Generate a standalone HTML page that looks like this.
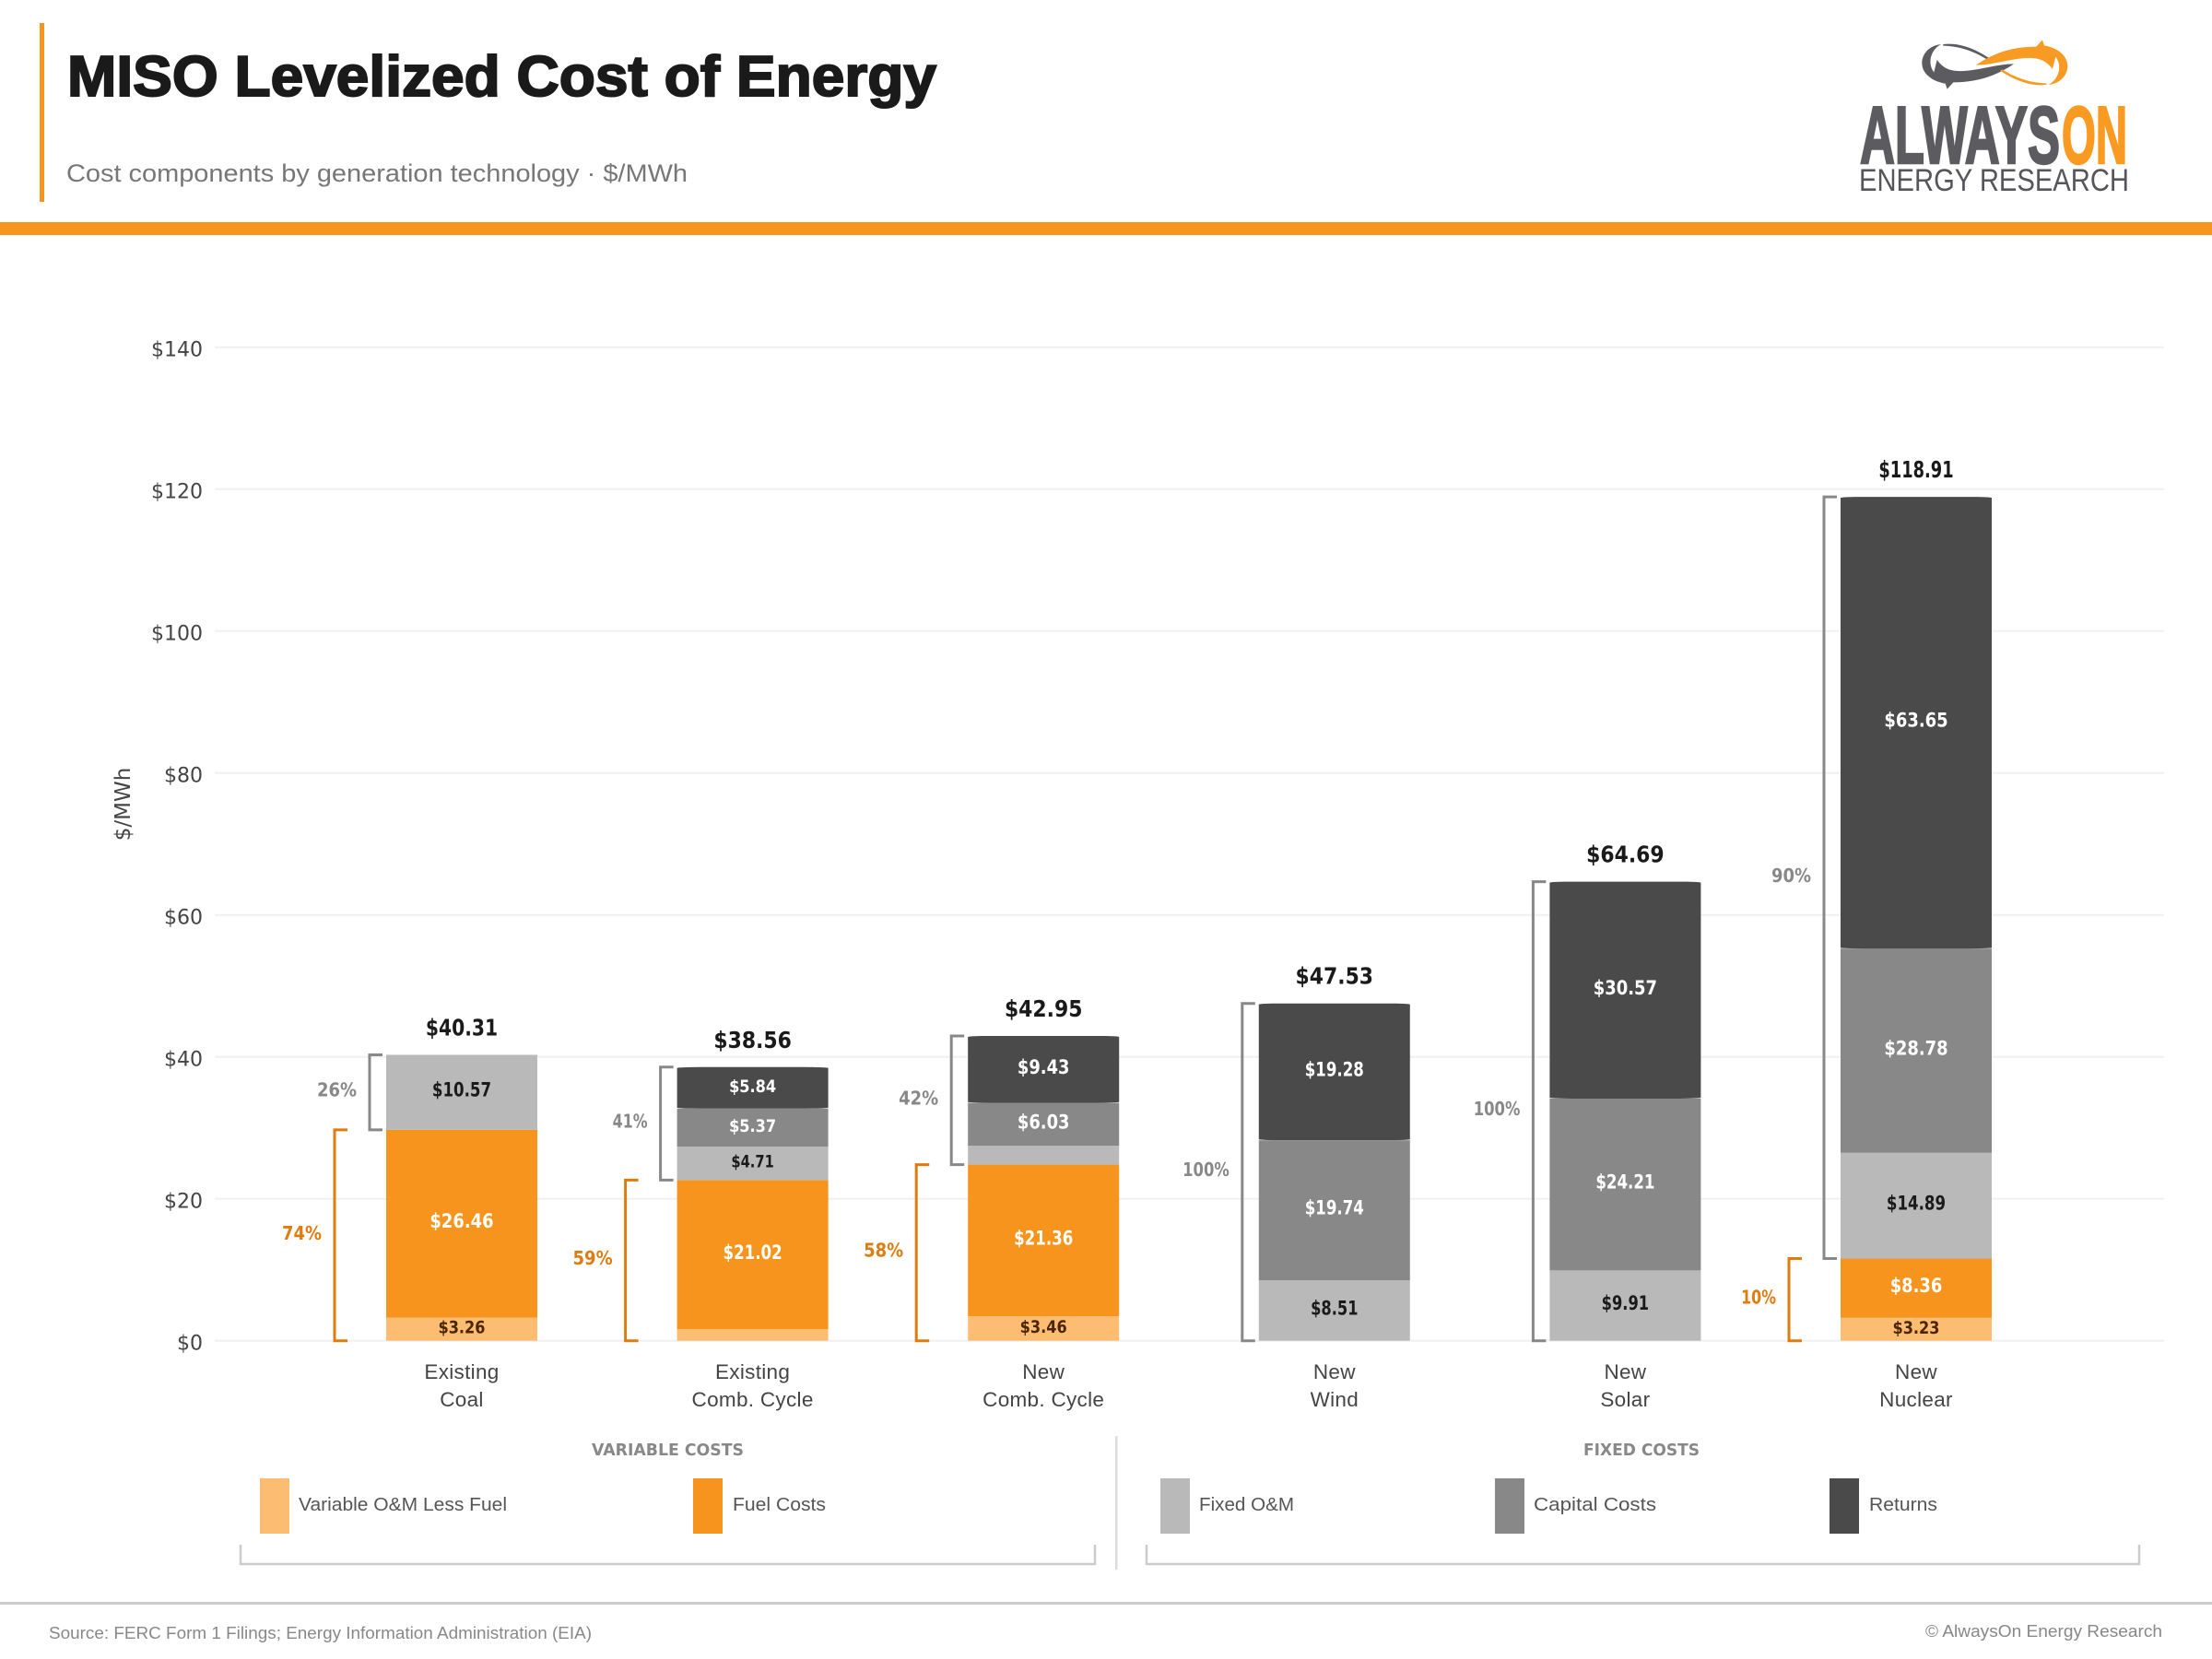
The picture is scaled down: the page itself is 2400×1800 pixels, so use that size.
<!DOCTYPE html>
<html lang="en">
<head>
<meta charset="utf-8">
<title>MISO Levelized Cost of Energy</title>
<style>
  html, body { margin: 0; padding: 0; background: #ffffff; }
  svg { display: block; }
  .sans { font-family: "Liberation Sans", sans-serif; }
  .deja { font-family: "DejaVu Sans", sans-serif; }
</style>
</head>
<body>
<svg id="chart" xmlns="http://www.w3.org/2000/svg" width="2400" height="1800" viewBox="0 0 2400 1800">
  <rect x="0" y="0" width="2400" height="1800" fill="#ffffff"/>

  <g>
    <rect x="43" y="25" width="5" height="194" fill="#f7941d"/>
    <text class="sans" x="73" y="104" font-size="62" font-weight="700" fill="#1a1a1a" stroke="#1a1a1a" stroke-width="2" textLength="943" lengthAdjust="spacingAndGlyphs">MISO Levelized Cost of Energy</text>
    <text class="sans" x="72" y="197" font-size="27" fill="#777777" textLength="674" lengthAdjust="spacingAndGlyphs">Cost components by generation technology  ·  $/MWh</text>
    <rect x="0" y="241" width="2400" height="14" fill="#f7941d"/>
  </g>

  <g>
    <g transform="translate(1960 20) scale(0.3333)">
      <path d="M675 148 C610 148 540 178 480 170 C455 166 440 155 425 135 L415 175 C395 150 400 105 438 84 C400 88 376 115 376 145 C376 180 410 205 452 212 L458 230 L478 208 C560 208 620 185 675 148 Z" fill="#5c5c60"/>
      <path d="M445 84 C500 78 550 100 596 130 L588 134 C545 106 495 90 445 89 Z" fill="#5c5c60"/>
      <g transform="rotate(180 613 150)">
        <path d="M675 148 C610 148 540 178 480 170 C455 166 440 155 425 135 L415 175 C395 150 400 105 438 84 C400 88 376 115 376 145 C376 180 410 205 452 212 L458 230 L478 208 C560 208 620 185 675 148 Z" fill="#f99a22"/>
        <path d="M445 84 C500 78 550 100 596 130 L588 134 C545 106 495 90 445 89 Z" fill="#f99a22"/>
      </g>
    </g>
    <text class="sans" x="2018" y="177" font-size="88" font-weight="700" fill="#5c5c60" stroke="#5c5c60" stroke-width="2.5" textLength="217" lengthAdjust="spacingAndGlyphs">ALWAYS</text>
    <text class="sans" x="2237" y="177" font-size="88" font-weight="700" fill="#f99a22" stroke="#f99a22" stroke-width="2.5" textLength="71" lengthAdjust="spacingAndGlyphs">ON</text>
    <text class="sans" x="2017" y="207" font-size="34" fill="#55555a" textLength="293" lengthAdjust="spacingAndGlyphs">ENERGY RESEARCH</text>
  </g>

  <g id="grid-layer"></g>
  <g id="axis-layer">
    <text class="deja" transform="translate(141 872.5) rotate(-90)" text-anchor="middle" font-size="23" fill="#444444">$/MWh</text>
  </g>
  <g id="bar-layer"></g>
  <g id="bracket-layer"></g>
  <g id="label-layer"></g>

  <g>
    <text class="deja" x="724.5" y="1579" text-anchor="middle" font-size="18" font-weight="700" fill="#888888" textLength="165" lengthAdjust="spacingAndGlyphs">VARIABLE COSTS</text>
    <text class="deja" x="1781" y="1579" text-anchor="middle" font-size="18" font-weight="700" fill="#888888" textLength="126" lengthAdjust="spacingAndGlyphs">FIXED COSTS</text>

    <g>
      <rect x="282" y="1604" width="32" height="60" fill="#fcbd72"/>
      <text class="sans" x="324" y="1639" font-size="20" fill="#555555" textLength="226" lengthAdjust="spacingAndGlyphs">Variable O&amp;M Less Fuel</text>
    </g>
    <g>
      <rect x="752" y="1604" width="32" height="60" fill="#f7941d"/>
      <text class="sans" x="795" y="1639" font-size="20" fill="#555555" textLength="101" lengthAdjust="spacingAndGlyphs">Fuel Costs</text>
    </g>
    <g>
      <rect x="1259" y="1604" width="32" height="60" fill="#b9b9b9"/>
      <text class="sans" x="1301" y="1639" font-size="20" fill="#555555" textLength="103" lengthAdjust="spacingAndGlyphs">Fixed O&amp;M</text>
    </g>
    <g>
      <rect x="1622" y="1604" width="32" height="60" fill="#888888"/>
      <text class="sans" x="1664" y="1639" font-size="20" fill="#555555" textLength="133" lengthAdjust="spacingAndGlyphs">Capital Costs</text>
    </g>
    <g>
      <rect x="1985" y="1604" width="32" height="60" fill="#4a4a4a"/>
      <text class="sans" x="2028" y="1639" font-size="20" fill="#555555" textLength="74" lengthAdjust="spacingAndGlyphs">Returns</text>
    </g>

    <path d="M261 1676 V1697 H1188 V1676" fill="none" stroke="#cccccc" stroke-width="2.5"/>
    <path d="M1244 1676 V1697 H2321 V1676" fill="none" stroke="#cccccc" stroke-width="2.5"/>
    <rect x="1210" y="1558" width="2.5" height="145" fill="#dddddd"/>
  </g>

  <g>
    <rect x="0" y="1738" width="2400" height="3" fill="#cccccc"/>
    <text class="sans" x="53" y="1778" font-size="18" fill="#888888" textLength="589" lengthAdjust="spacingAndGlyphs">Source: FERC Form 1 Filings; Energy Information Administration (EIA)</text>
    <text class="sans" x="2089" y="1776" font-size="18" fill="#888888" textLength="257" lengthAdjust="spacingAndGlyphs">© AlwaysOn Energy Research</text>
  </g>
</svg>

<script>
const categories = [
  ['Existing', 'Coal'],
  ['Existing', 'Comb. Cycle'],
  ['New', 'Comb. Cycle'],
  ['New', 'Wind'],
  ['New', 'Solar'],
  ['New', 'Nuclear']
];
const variableOm = [3.26, 1.62, 3.46, 0, 0, 3.23];
const fuelCosts = [26.46, 21.02, 21.36, 0, 0, 8.36];
const fixedOm = [10.57, 4.71, 2.67, 8.51, 9.91, 14.89];
const capitalCosts = [0, 5.37, 6.03, 19.74, 24.21, 28.78];
const returnsCosts = [0, 5.84, 9.43, 19.28, 30.57, 63.65];
const totals = [40.31, 38.56, 42.95, 47.53, 64.69, 118.91];
const variableShare = [74, 59, 58, 0, 0, 10];
const fixedShare = [26, 41, 42, 100, 100, 90];
const yTicks = [0, 20, 40, 60, 80, 100, 120, 140];

const SVG_NS = 'http://www.w3.org/2000/svg';
const PLOT = { baseY: 1454.7, pxPerDollar: 7.7, left: 233, right: 2348, firstX: 501, stepX: 315.6, barW: 164 };
const yScale = function (v) { return PLOT.baseY - v * PLOT.pxPerDollar; };
const xCenter = function (i) { return PLOT.firstX + i * PLOT.stepX; };
const LABEL_MIN = 3;

const seriesList = [
  { key: 'variable-om', values: variableOm, fill: '#fcbd72', text: '#4a2500' },
  { key: 'fuel-costs', values: fuelCosts, fill: '#f7941d', text: '#ffffff' },
  { key: 'fixed-om', values: fixedOm, fill: '#b9b9b9', text: '#1a1a1a' },
  { key: 'capital-costs', values: capitalCosts, fill: '#888888', text: '#ffffff' },
  { key: 'returns', values: returnsCosts, fill: '#4a4a4a', text: '#ffffff' }
];

function make(tag, parent) {
  const el = document.createElementNS(SVG_NS, tag);
  parent.appendChild(el);
  return el;
}
function set(el, props) {
  Object.keys(props).forEach(function (k) { el.setAttribute(k, props[k]); });
}
function slug(parts) {
  return parts.join('-').toLowerCase().replace(/[^a-z0-9]+/g, '-');
}
function poppinsWidth(str, size) {
  let w = 0;
  for (const ch of str) {
    if (ch === '1') w += 0.37;
    else if (ch === '.') w += 0.28;
    else if (ch === '%') w += 0.86;
    else w += 0.62;
  }
  return w * size;
}

const gridLayer = document.getElementById('grid-layer');
const axisLayer = document.getElementById('axis-layer');
const barLayer = document.getElementById('bar-layer');
const bracketLayer = document.getElementById('bracket-layer');
const labelLayer = document.getElementById('label-layer');

yTicks.forEach(function (t) {
  const line = make('line', gridLayer);
  set(line, { x1: PLOT.left, x2: PLOT.right, y1: yScale(t), y2: yScale(t), stroke: '#f0f0f0', 'stroke-width': 2 });
  
  

  const tick = make('text', axisLayer);
  set(tick, { x: 220, y: yScale(t) + 10, 'text-anchor': 'end', 'font-size': 22, fill: '#444444', class: 'deja' });
  tick.textContent = '$' + t;
  
  
});

function drawBracket(parent, barLeft, offset, fromVal, toVal, color, share, name) {
  const x = barLeft - offset;
  const yTop = yScale(toVal);
  const yBot = yScale(fromVal);
  const path = make('path', parent);
  set(path, { d: 'M' + (x + 14) + ' ' + yTop + ' H' + x + ' V' + yBot + ' H' + (x + 14), fill: 'none', stroke: color, 'stroke-width': 3 });
  
  

  const label = share + '%';
  const pct = make('text', parent);
  set(pct, {
    x: x - 14, y: (yTop + yBot) / 2 + 4.5, 'text-anchor': 'end', 'font-size': 20.5, 'font-weight': 700,
    fill: color, class: 'deja', textLength: poppinsWidth(label, 20.5), lengthAdjust: 'spacingAndGlyphs'
  });
  pct.textContent = label;
  
  
}

categories.forEach(function (lines, i) {
  const cx = xCenter(i);
  const left = cx - PLOT.barW / 2;
  const catSlug = slug(lines);
  let running = 0;
  let variableTop = 0;

  seriesList.forEach(function (s) {
    const v = s.values[i];
    if (v <= 0) return;
    const yTop = yScale(running + v);
    const yBot = yScale(running);
    const seg = make('rect', barLayer);
    set(seg, { x: left, y: yTop, width: PLOT.barW, height: yBot - yTop, fill: s.fill });
    if (s.key === 'returns') set(seg, { rx: 25, ry: 1 });
    
    

    if (v >= LABEL_MIN) {
      const str = '$' + v.toFixed(2);
      const size = v < 6 ? 18.5 : 20.5;
      const lbl = make('text', labelLayer);
      set(lbl, {
        x: cx, y: (yTop + yBot) / 2 + 4.5, 'text-anchor': 'middle', 'font-size': size + 0.5, 'font-weight': 700,
        fill: s.text, class: 'deja', textLength: poppinsWidth(str, size), lengthAdjust: 'spacingAndGlyphs'
      });
      lbl.textContent = str;
      
      
    }
    running += v;
    if (s.key === 'fuel-costs') variableTop = running;
  });

  if (variableShare[i] > 0) {
    drawBracket(bracketLayer, left, 56, 0, variableTop, '#e07b10', variableShare[i], catSlug + '-variable');
  }
  if (fixedShare[i] > 0) {
    drawBracket(bracketLayer, left, 18, variableTop, running, '#888888', fixedShare[i], catSlug + '-fixed');
  }

  const totalStr = '$' + totals[i].toFixed(2);
  const total = make('text', labelLayer);
  set(total, {
    x: cx, y: yScale(running) - 21, 'text-anchor': 'middle', 'font-size': 25, 'font-weight': 700,
    fill: '#1a1a1a', class: 'deja', textLength: poppinsWidth(totalStr, 25), lengthAdjust: 'spacingAndGlyphs'
  });
  total.textContent = totalStr;
  
  

  lines.forEach(function (line, j) {
    const cat = make('text', labelLayer);
    set(cat, { x: cx, y: 1496 + j * 30, 'text-anchor': 'middle', 'font-size': 22.5, 'letter-spacing': 0.3, fill: '#444444', class: 'sans' });
    cat.textContent = line;
    
    
  });
});
</script>
</body>
</html>
